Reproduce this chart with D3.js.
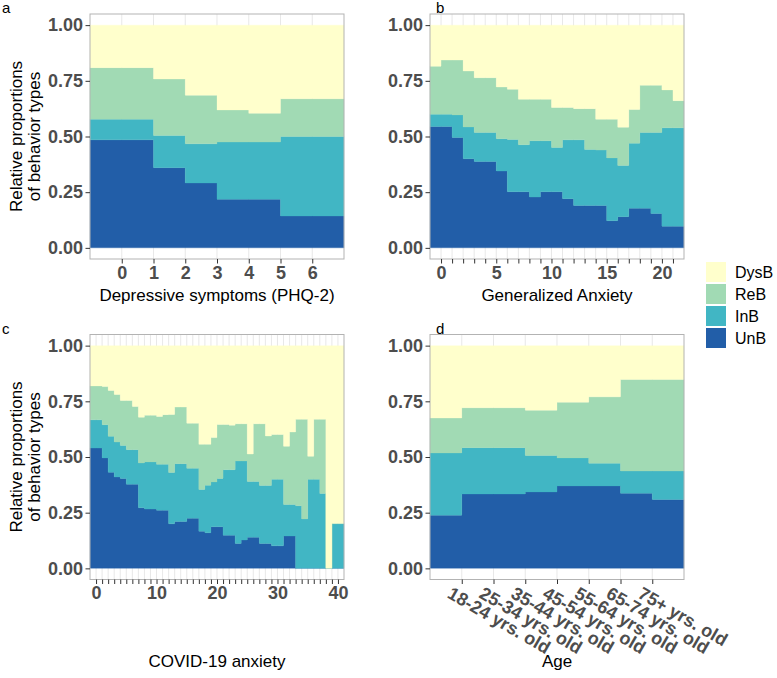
<!DOCTYPE html>
<html><head><meta charset="utf-8">
<script src="https://cdn.jsdelivr.net/npm/d3@7"></script>
<style>
body{margin:0;background:#fff}
text{font-family:"Liberation Sans",Arial,Helvetica,sans-serif}
</style>
</head><body>
<svg id="chart" width="777" height="678"></svg>
<script>
// ---------- data ----------
const behaviorTypes = ["UnB", "InB", "ReB", "DysB"];
const legendOrder = ["DysB", "ReB", "InB", "UnB"];
const palette = ["#225EA8", "#41B6C4", "#A1DAB4", "#FFFFCC"];

// Panel a: Depressive symptoms (PHQ-2)
const phqX    = [-1, 0, 1, 2, 3, 4, 5, 6];
const phqUnB  = [.485, .485, .360, .291, .218, .218, .143, .143];
const phqInB  = [.093, .093, .144, .176, .257, .257, .357, .357];
const phqReB  = [.231, .231, .254, .218, .144, .129, .169, .169];
const phqDysB = [.191, .191, .242, .315, .381, .396, .331, .331];
const phqTicks = [0, 1, 2, 3, 4, 5, 6];
const phqLabels = ["0", "1", "2", "3", "4", "5", "6"];

// Panel b: Generalized Anxiety
const gadX    = d3.range(-1, 22);
const gadUnB  = [.545,.545,.496,.400,.388,.388,.345,.252,.252,.228,.252,.252,.221,.190,.190,.190,.122,.140,.178,.178,.154,.097,.097];
const gadInB  = [.055,.055,.101,.143,.130,.130,.145,.235,.211,.253,.229,.199,.264,.295,.252,.249,.282,.230,.292,.340,.364,.442,.442];
const gadReB  = [.215,.243,.246,.251,.246,.246,.232,.225,.204,.186,.186,.179,.145,.140,.183,.139,.174,.172,.151,.212,.212,.170,.122];
const gadDysB = [.185,.157,.157,.206,.236,.236,.278,.288,.333,.333,.333,.370,.370,.375,.375,.422,.422,.458,.379,.270,.270,.291,.339];
const gadTicks = d3.range(0, 22);
const gadLabeled = [0, 5, 10, 15, 20];

// Panel c: COVID-19 anxiety
const covX    = d3.range(-1, 41);
const covUnB  = [.540,.540,.496,.431,.410,.403,.378,.378,.272,.266,.266,.261,.261,.200,.210,.210,.225,.225,.167,.160,.187,.187,.149,.149,.112,.127,.140,.140,.112,.112,.101,.101,.145,.145,0,0,0,0,0,0,0,0];
const covInB  = [.127,.127,.149,.162,.157,.149,.155,.155,.201,.212,.212,.206,.206,.230,.260,.260,.224,.224,.187,.213,.201,.217,.294,.294,.370,.355,.250,.250,.260,.260,.299,.299,.142,.142,.281,.222,.400,.400,.336,0,.201,.201];
const covReB  = [.152,.152,.171,.206,.214,.202,.221,.194,.206,.210,.210,.215,.223,.261,.254,.254,.203,.203,.203,.184,.199,.242,.203,.200,.167,.167,.123,.259,.277,.222,.201,.201,.261,.325,.388,.447,.103,.269,.333,0,0,0];
const covDysB = [.181,.181,.184,.201,.219,.246,.246,.273,.321,.312,.312,.318,.310,.309,.276,.276,.348,.348,.443,.443,.413,.354,.354,.357,.351,.351,.487,.351,.351,.406,.399,.399,.452,.388,.331,.331,.497,.331,.331,1,.799,.799];
const covTicks = d3.range(0, 41);
const covLabeled = [0, 10, 20, 30, 40];

// Panel d: Age
const ageX    = [0, 1, 2, 3, 4, 5, 6, 7];
const ageUnB  = [.239, .334, .334, .343, .370, .370, .337, .309];
const ageInB  = [.279, .208, .208, .164, .126, .102, .100, .128];
const ageReB  = [.157, .179, .179, .203, .250, .298, .411, .411];
const ageDysB = [.325, .279, .279, .290, .254, .230, .152, .152];
const ageTicks = [1, 2, 3, 4, 5, 6, 7];
const ageLabels = ["18-24 yrs. old", "25-34 yrs. old", "35-44 yrs. old", "45-54 yrs. old", "55-64 yrs. old", "65-74 yrs. old", "75+ yrs. old"];

const yTicks = [0, 0.25, 0.5, 0.75, 1];
const yTickLabels = ["0.00", "0.25", "0.50", "0.75", "1.00"];

// ---------- drawing ----------
const svg = d3.select("#chart");
const color = d3.scaleOrdinal().domain(behaviorTypes).range(palette);

const panels = [
  {letter: "a", x: phqX, vals: [phqUnB, phqInB, phqReB, phqDysB], ticks: phqTicks,
   fmt: d => phqLabels[phqTicks.indexOf(d)], title: "Depressive symptoms (PHQ-2)",
   left: 90, right: 344, top: 14, bottom: 259, ylab: true, lx: 2, titleY: 301},
  {letter: "b", x: gadX, vals: [gadUnB, gadInB, gadReB, gadDysB], ticks: gadTicks,
   fmt: d => gadLabeled.includes(d) ? String(d) : "", title: "Generalized Anxiety",
   left: 430, right: 684, top: 14, bottom: 259, ylab: false, lx: 436, titleY: 301},
  {letter: "c", x: covX, vals: [covUnB, covInB, covReB, covDysB], ticks: covTicks,
   fmt: d => covLabeled.includes(d) ? String(d) : "", title: "COVID-19 anxiety",
   left: 90, right: 344, top: 334.5, bottom: 579.5, ylab: true, lx: 2, titleY: 667},
  {letter: "d", x: ageX, vals: [ageUnB, ageInB, ageReB, ageDysB], ticks: ageTicks,
   fmt: d => ageLabels[ageTicks.indexOf(d)], title: "Age", rotate: true,
   left: 430, right: 684, top: 334.5, bottom: 579.5, ylab: false, lx: 436, titleY: 667}
];

panels.forEach(p => {
  const g = svg.append("g");
  const x = d3.scaleLinear().domain([p.x[0], p.x[p.x.length - 1] + 1]).range([p.left, p.right]);
  const y = d3.scaleLinear().domain([-0.05, 1.05]).range([p.bottom, p.top]);

  // grid
  g.selectAll("line.grid").data(p.ticks).join("line")
    .attr("x1", d => x(d)).attr("x2", d => x(d))
    .attr("y1", p.top).attr("y2", p.bottom)
    .attr("stroke", "#DEDEDE").attr("stroke-width", 0.7);

  // rows
  const rows = p.x.map((xv, i) => {
    const r = {x: xv};
    behaviorTypes.forEach((k, j) => r[k] = p.vals[j][i]);
    return r;
  });
  const last = Object.assign({}, rows[rows.length - 1], {x: rows[rows.length - 1].x + 1});
  rows.push(last);

  const stacked = d3.stack().keys(behaviorTypes).offset(d3.stackOffsetExpand)(rows);
  const area = d3.area().curve(d3.curveStepAfter)
    .x(d => x(d.data.x)).y0(d => y(d[0])).y1(d => y(d[1]));
  g.selectAll("path.layer").data(stacked).join("path")
    .attr("d", area).attr("fill", d => color(d.key))
    .attr("stroke", d => color(d.key)).attr("stroke-width", 0.3);

  // border
  g.append("rect").attr("x", p.left).attr("y", p.top)
    .attr("width", p.right - p.left).attr("height", p.bottom - p.top)
    .attr("fill", "none").attr("stroke", "#B3B3B3").attr("stroke-width", 1);

  // y axis
  const ya = g.append("g").attr("transform", `translate(${p.left},0)`)
    .call(d3.axisLeft(y).tickValues(yTicks).tickFormat((d, i) => yTickLabels[i]).tickSize(4.5).tickPadding(2.5));
  ya.select(".domain").remove();
  ya.selectAll("line").attr("stroke", "#333").attr("stroke-width", 1);
  ya.selectAll("text").attr("fill", "#4D4D4D").style("font-size", "18px").style("font-weight", "bold");

  // x axis
  const xa = g.append("g").attr("transform", `translate(0,${p.bottom})`)
    .call(d3.axisBottom(x).tickValues(p.ticks).tickFormat(p.fmt).tickSize(4.5).tickPadding(2.5));
  xa.select(".domain").remove();
  xa.selectAll("line").attr("stroke", "#333").attr("stroke-width", 1);
  xa.selectAll("text").attr("fill", "#4D4D4D").style("font-size", "18px").style("font-weight", "bold");
  if (p.rotate) {
    xa.selectAll("text").attr("x", 0).attr("y", 0).attr("dy", 0)
      .attr("text-anchor", "start").attr("transform", "translate(-16,17.5) rotate(30)");
  }

  // x title
  g.append("text").attr("x", (p.left + p.right) / 2).attr("y", p.titleY)
    .attr("text-anchor", "middle").style("font-size", "17px").attr("fill", "#000").text(p.title);

  // y title
  if (p.ylab) {
    const cy = (p.top + p.bottom) / 2;
    const yt = g.append("text").attr("transform", `translate(22,${cy}) rotate(-90)`)
      .attr("text-anchor", "middle").style("font-size", "17px");
    yt.append("tspan").attr("x", 0).attr("y", 0).text("Relative proportions");
    yt.append("tspan").attr("x", 0).attr("y", 18).text("of behavior types");
  }

  // panel letter
  svg.append("text").attr("x", p.lx).attr("y", p.top - 1)
    .style("font-size", "15px").text(p.letter);
});

// legend
const lg = svg.append("g").attr("transform", "translate(706,262)");
legendOrder.forEach((k, i) => {
  lg.append("rect").attr("x", 0).attr("y", i * 22).attr("width", 20).attr("height", 20)
    .attr("fill", color(k));
  lg.append("text").attr("x", 29).attr("y", i * 22 + 10).attr("dy", "0.36em")
    .style("font-size", "16px").text(k);
});
</script>
</body></html>
